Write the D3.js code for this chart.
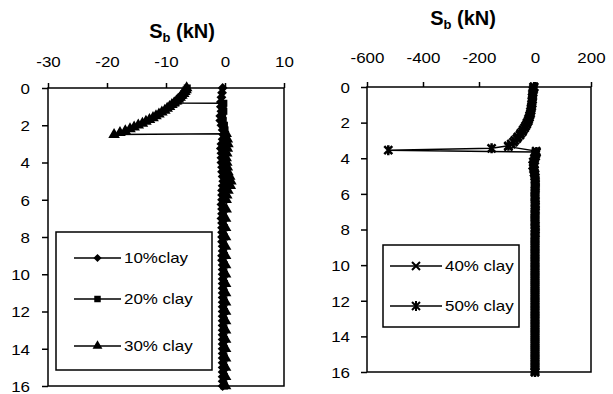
<!DOCTYPE html>
<html>
<head>
<meta charset="utf-8">
<script src="https://cdn.jsdelivr.net/npm/d3@7"></script>
<style>
  body { margin: 0; background: #fff; }
  svg { display: block; font-family: Arial, "Liberation Sans", sans-serif; }
  .tick text { font-size: 15px; fill: #000; }
  .legend text { font-size: 15px; }
</style>
</head>
<body>
<svg id="chart" width="613" height="394"></svg>
<script>

  // ---- left panel: 10 / 20 / 30 % clay ----
  const xTicksLeft  = [-30, -20, -10, 0, 10];
  const yTicks      = [0, 2, 4, 6, 8, 10, 12, 14, 16];

  const clay10Depth = [0, 0.25, 0.5, 0.75, 1, 1.25, 1.5, 1.75, 2, 2.25, 2.5, 2.75, 3, 3.25, 3.5, 3.75,
                       4, 4.25, 4.5, 4.75, 5, 5.25, 5.5, 5.75, 6, 6.25, 6.5, 6.75, 7, 7.25, 7.5, 7.75,
                       8, 8.25, 8.5, 8.75, 9, 9.25, 9.5, 9.75, 10, 10.25, 10.5, 10.75, 11, 11.25, 11.5, 11.75,
                       12, 12.25, 12.5, 12.75, 13, 13.25, 13.5, 13.75, 14, 14.25, 14.5, 14.75, 15, 15.25, 15.5, 15.75, 16];
  const clay10Sb    = [-0.4, -0.5, -0.6, -0.7, -0.7, -0.6, -0.8, -0.8, -0.6, -0.4, -0.3, -0.4, -0.6, -0.7, -0.6, -0.6,
                       -0.6, -0.5, -0.5, -0.4, -0.3, -0.4, -0.5, -0.5, -0.5, -0.6, -0.5, -0.5, -0.6, -0.5, -0.5, -0.5,
                       -0.5, -0.5, -0.4, -0.4, -0.5, -0.5, -0.4, -0.4, -0.4, -0.4, -0.4, -0.4, -0.4, -0.4, -0.4, -0.4,
                       -0.4, -0.4, -0.4, -0.4, -0.4, -0.4, -0.4, -0.4, -0.4, -0.4, -0.4, -0.4, -0.4, -0.4, -0.4, -0.4, -0.4];

  const clay20Depth = [0, 0.1, 0.2, 0.3, 0.4, 0.5, 0.6, 0.7, 0.8, 0.82, 1, 1.25, 1.5, 1.75, 2, 2.25, 2.5, 2.75,
                       3, 3.25, 3.5, 3.75, 4, 4.25, 4.5, 4.75, 5, 5.25, 5.5, 5.75, 6, 6.5, 7, 7.5, 8, 8.5, 9, 9.5,
                       10, 10.5, 11, 11.5, 12, 12.5, 13, 13.5, 14, 14.5, 15, 15.5, 16];
  const clay20Sb    = [-6.4, -6.6, -6.8, -7.0, -7.2, -7.5, -7.8, -8.1, -8.4, -0.2, -0.3, -0.2, -0.4, -0.3, -0.1, 0.0, 0.1, 0.0,
                       -0.1, -0.2, -0.3, -0.2, -0.2, -0.1, 0.0, 0.2, 0.3, 0.2, 0.0, -0.1, -0.1, -0.1, -0.2, -0.1, -0.1, -0.2, -0.1, -0.1,
                       -0.1, -0.1, -0.1, -0.1, -0.1, -0.1, -0.1, -0.1, -0.1, -0.1, -0.1, -0.1, -0.1];

  const clay30Depth = [0, 0.1, 0.2, 0.3, 0.4, 0.5, 0.6, 0.7, 0.8, 0.9, 1.0, 1.1, 1.2, 1.3, 1.4, 1.5, 1.6, 1.7, 1.8,
                       1.9, 2.0, 2.1, 2.2, 2.3, 2.4, 2.5, 2.45, 2.75, 3, 3.25, 3.5, 3.75, 4, 4.25, 4.5, 4.75, 5,
                       5.25, 5.5, 5.75, 6, 6.5, 7, 7.5, 8, 8.5, 9, 9.5, 10, 10.5, 11, 11.5, 12, 12.5, 13, 13.5,
                       14, 14.5, 15, 15.5, 16];
  const clay30Sb    = [-6.5, -6.6, -6.8, -7.0, -7.3, -7.6, -7.9, -8.2, -8.6, -9.0, -9.4, -9.8, -10.2, -10.7, -11.2, -11.7, -12.2, -12.8, -13.4,
                       -14.0, -14.7, -15.4, -16.1, -16.9, -17.8, -18.8, 0.2, 0.4, 0.5, 0.4, 0.3, 0.2, 0.3, 0.4, 0.5, 0.8, 1.0,
                       0.9, 0.5, 0.3, 0.2, 0.2, 0.1, 0.1, 0.1, 0.1, 0.1, 0.1, 0.1, 0.1, 0.1, 0.1, 0.1, 0.1, 0.1, 0.1,
                       0.1, 0.1, 0.1, 0.1, 0.1];

  // ---- right panel: 40 / 50 % clay ----
  const xTicksRight = [-600, -400, -200, 0, 200];

  const clay40Depth = [0, 0.2, 0.4, 0.6, 0.8, 1.0, 1.2, 1.4, 1.6, 1.8, 2.0, 2.2, 2.4, 2.6, 2.8, 3.0, 3.2, 3.35,
                       3.6, 3.8, 4.0, 4.2, 4.4, 4.6, 4.8, 5.0, 5.2, 5.4,
                       5.6, 5.8, 6.0, 6.2, 6.4, 6.6, 6.8, 7.0, 7.2, 7.4,
                       7.6, 7.8, 8.0, 8.2, 8.4, 8.6, 8.8, 9.0, 9.2, 9.4,
                       9.6, 9.8, 10.0, 10.2, 10.4, 10.6, 10.8, 11.0, 11.2, 11.4,
                       11.6, 11.8, 12.0, 12.2, 12.4, 12.6, 12.8, 13.0, 13.2, 13.4,
                       13.6, 13.8, 14.0, 14.2, 14.4, 14.6, 14.8, 15.0, 15.2, 15.4,
                       15.6, 15.8, 16.0];
  const clay40Sb    = [-5, -7, -9, -10, -11, -12, -14, -16, -19, -23, -28, -34, -42, -51, -61, -72, -85, -95,
                       4, 2, -2, -6, -8, -5, -3, -1, 0, 1,
                       1, 0, 0, 0, 1, 1, 0, 0, 0, 0,
                       0, 1, 1, 1, 0, 0, 0, 0, 0, 0,
                       0, 0, 0, 0, 0, 0, 0, 0, 0, 0,
                       0, 0, 0, 0, 0, 0, 0, 0, 0, 0,
                       0, 0, 0, 0, 0, 0, 0, 0, 0, 0,
                       0, 0, 0];

  const clay50Depth = [0, 0.1, 0.3, 0.5, 0.7, 0.9, 1.1, 1.3, 1.5, 1.7, 1.9, 2.1, 2.3, 2.5, 2.7, 2.9, 3.1, 3.3, 3.44, 3.55,
                       3.65, 3.7, 3.9, 4.1, 4.3, 4.5, 4.7, 4.9, 5.1, 5.3, 5.5,
                       5.7, 5.9, 6.1, 6.3, 6.5, 6.7, 6.9, 7.1, 7.3, 7.5,
                       7.7, 7.9, 8.1, 8.3, 8.5, 8.7, 8.9, 9.1, 9.3, 9.5,
                       9.7, 9.9, 10.1, 10.3, 10.5, 10.7, 10.9, 11.1, 11.3, 11.5,
                       11.7, 11.9, 12.1, 12.3, 12.5, 12.7, 12.9, 13.1, 13.3, 13.5,
                       13.7, 13.9, 14.1, 14.3, 14.5, 14.7, 14.9, 15.1, 15.3, 15.5,
                       15.7, 15.9, 16];
  const clay50Sb    = [-3, -5, -7, -8, -9, -10, -12, -14, -16, -20, -24, -30, -37, -45, -54, -65, -77, -95, -155, -524,
                       5, 4, 2, -1, -3, -4, -2, 0, 1, 1, 1,
                       1, 0, 0, 0, 0, 1, 1, 0, 0, 0,
                       0, 0, 0, 0, 0, 0, 0, 0, 0, 0,
                       0, 0, 0, 0, 0, 0, 0, 0, 0, 0,
                       0, 0, 0, 0, 0, 0, 0, 0, 0, 0,
                       0, 0, 0, 0, 0, 0, 0, 0, 0, 0,
                       0, 0, 0];

  const svg = d3.select('#chart');
  const TEXT_STRETCH = 1.13;

  // marker shapes
  const markers = {
    diamond:  d3.symbol().type(d3.symbolDiamond2).size(62)(),
    square:   d3.symbol().type(d3.symbolSquare).size(50)(),
    triangle: d3.symbol().type(d3.symbolTriangle).size(58)(),
    times:    "M-4,-4L4,4M-4,4L4,-4",
    asterisk: "M-4,-4L4,4M-4,4L4,-4M0,-5L0,5"
  };
  const legendMarkers = {
    diamond:  d3.symbol().type(d3.symbolDiamond2).size(42)(),
    square:   d3.symbol().type(d3.symbolSquare).size(42)(),
    triangle: d3.symbol().type(d3.symbolTriangle).size(42)(),
    times:    "M-4,-4L4,4M-4,4L4,-4",
    asterisk: "M-4,-4L4,4M-4,4L4,-4M0,-5L0,5"
  };

  function zip(depths, values) {
    return depths.map(function (d, i) { return { depth: d, sb: values[i] }; });
  }

  function draw_panel(opts) {
    const x = d3.scaleLinear().domain(opts.xDomain).range([opts.left, opts.right]);
    const y = d3.scaleLinear().domain([0, 16]).range([opts.top, opts.bottom]);

    const g = svg.append('g');

    // frame
    g.append('rect')
      .attr('x', opts.left).attr('y', opts.top)
      .attr('width', opts.right - opts.left).attr('height', opts.bottom - opts.top)
      .attr('fill', 'none').attr('stroke', '#000').attr('stroke-width', 1.5);

    // top axis
    const xAxis = d3.axisTop(x).tickValues(opts.xTicks).tickSize(5).tickPadding(opts.xPad)
      .tickFormat(function (d) { return String(d); });
    g.append('g').attr('transform', 'translate(0,' + opts.top + ')').call(xAxis)
      .call(function (a) {
        a.select('.domain').remove();
        a.selectAll('line').attr('stroke', '#000').attr('stroke-width', 1.5);
        a.selectAll('text').attr('font-family', null).attr('font-size', null)
          .attr('transform', 'scale(' + TEXT_STRETCH + ',1)');
      });

    // left axis
    const yAxis = d3.axisLeft(y).tickValues(yTicks).tickSize(6).tickPadding(opts.yPad);
    g.append('g').attr('transform', 'translate(' + opts.left + ',0)').call(yAxis)
      .call(function (a) {
        a.select('.domain').remove();
        a.selectAll('line').attr('stroke', '#000').attr('stroke-width', 1.5);
        a.selectAll('text').attr('font-family', null).attr('font-size', null).attr('dy', '0.35em')
          .attr('x', -(6 + opts.yPad) / TEXT_STRETCH)
          .attr('transform', 'scale(' + TEXT_STRETCH + ',1)');
      });

    // title  S_b (kN)
    const title = g.append('text')
      .attr('x', opts.titleX).attr('y', opts.titleY)
      .attr('text-anchor', 'middle')
      .attr('font-weight', 'bold').attr('font-size', 20);
    title.append('tspan').text('S');
    title.append('tspan').attr('font-size', 13).attr('dy', 4).text('b');
    title.append('tspan').attr('dy', -4).text(' (kN)');

    // series
    const line = d3.line().x(function (d) { return x(d.sb); }).y(function (d) { return y(d.depth); });
    opts.series.forEach(function (s) {
      const data = zip(s.depth, s.values);
      g.append('path').datum(data)
        .attr('d', line).attr('fill', 'none').attr('stroke', '#000').attr('stroke-width', 1.5);
      g.selectAll(null).data(data).enter().append('path')
        .attr('d', markers[s.marker])
        .attr('transform', function (d) { return 'translate(' + x(d.sb) + ',' + y(d.depth) + ')'; })
        .attr('fill', s.filled ? '#000' : 'none')
        .attr('stroke', '#000').attr('stroke-width', s.filled ? 0 : 2.5);
    });

    // legend
    const lg = g.append('g').attr('class', 'legend');
    lg.append('rect')
      .attr('x', opts.legend.x).attr('y', opts.legend.y)
      .attr('width', opts.legend.w).attr('height', opts.legend.h)
      .attr('fill', '#fff').attr('stroke', '#000').attr('stroke-width', 1.5);
    opts.series.forEach(function (s, i) {
      const ly = opts.legend.rowY[i];
      lg.append('line')
        .attr('x1', opts.legend.lineX[0]).attr('x2', opts.legend.lineX[1])
        .attr('y1', ly).attr('y2', ly).attr('stroke', '#000').attr('stroke-width', 1.5);
      lg.append('path')
        .attr('d', legendMarkers[s.marker])
        .attr('transform', 'translate(' + (opts.legend.lineX[0] + opts.legend.lineX[1]) / 2 + ',' + ly + ')')
        .attr('fill', s.filled ? '#000' : 'none')
        .attr('stroke', '#000').attr('stroke-width', s.filled ? 0 : 2);
      lg.append('text')
        .attr('transform', 'translate(' + (opts.legend.lineX[1] + 3) + ',' + ly + ') scale(' + TEXT_STRETCH + ',1)')
        .attr('dy', '0.35em')
        .text(s.name);
    });
  }

  draw_panel({
    xDomain: [-30, 10], xTicks: xTicksLeft,
    left: 48, right: 284, top: 88, bottom: 386,
    xPad: 16, yPad: 12,
    titleX: 182, titleY: 38,
    series: [
      { name: '10%clay',  depth: clay10Depth, values: clay10Sb, marker: 'diamond',  filled: true },
      { name: '20% clay', depth: clay20Depth, values: clay20Sb, marker: 'square',   filled: true },
      { name: '30% clay', depth: clay30Depth, values: clay30Sb, marker: 'triangle', filled: true }
    ],
    legend: { x: 56, y: 232, w: 156, h: 138, rowY: [258, 299, 346], lineX: [74, 121] }
  });

  draw_panel({
    xDomain: [-600, 200], xTicks: xTicksRight,
    left: 367, right: 591, top: 87, bottom: 372,
    xPad: 19, yPad: 11,
    titleX: 463, titleY: 25,
    series: [
      { name: '40% clay', depth: clay40Depth, values: clay40Sb, marker: 'times',    filled: false },
      { name: '50% clay', depth: clay50Depth, values: clay50Sb, marker: 'asterisk', filled: false }
    ],
    legend: { x: 383, y: 245, w: 136, h: 82, rowY: [266, 306], lineX: [390, 442] }
  });

</script>
</body>
</html>
